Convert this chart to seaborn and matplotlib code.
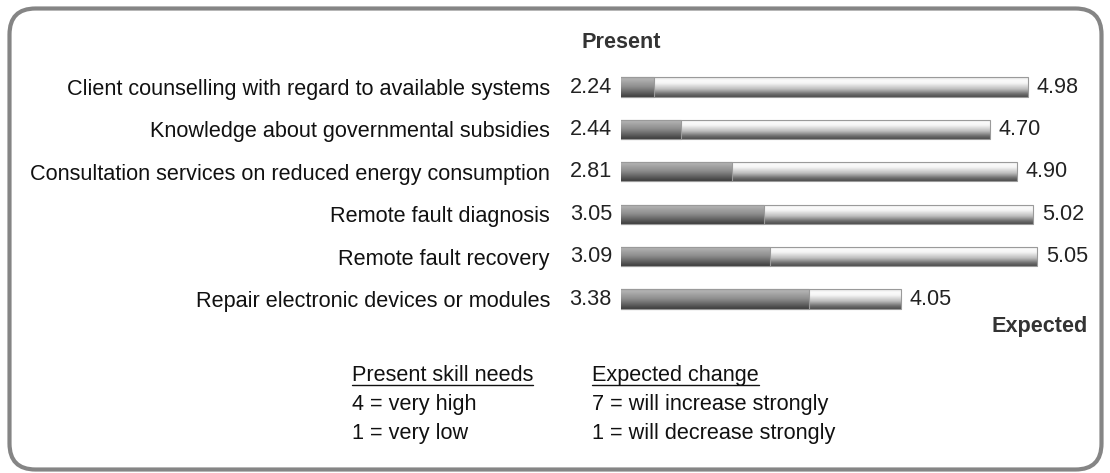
# -*- coding: utf-8 -*-

"""
    技能需求：现在 vs 预期 (水平条形图)
"""
import numpy as np
import pandas as pd
import matplotlib
matplotlib.use('Agg')
import matplotlib.pyplot as plt
import seaborn as sns
from matplotlib.patches import FancyBboxPatch
from matplotlib.lines import Line2D
from matplotlib.transforms import IdentityTransform

# 数据
items = ['Client counselling with regard to available systems',
         'Knowledge about governmental subsidies',
         'Consultation services on reduced energy consumption',
         'Remote fault diagnosis',
         'Remote fault recovery',
         'Repair electronic devices or modules']
present = [2.24, 2.44, 2.81, 3.05, 3.09, 3.38]
expected = [4.98, 4.70, 4.90, 5.02, 5.05, 4.05]

present_legend = ['Present skill needs', '4 = very high', '1 = very low']
expected_legend = ['Expected change', '7 = will increase strongly', '1 = will decrease strongly']

W, H = 1110, 473
FONT = 15.6


def gradient(stops):
    """
        竖直方向渐变色 (上 -> 下)
    """
    pos = np.linspace(0, 1, 80)
    p = [s[0] for s in stops]
    g = [s[1] for s in stops]
    col = np.interp(pos, p, g) / 255.0
    return np.repeat(col[:, None, None], 3, axis=2)


DARK = gradient([(0, 170), (0.1, 178), (0.5, 140), (0.85, 85), (1, 62)])
LIGHT = gradient([(0, 225), (0.15, 250), (0.3, 246), (0.6, 190), (0.85, 110), (1, 78)])


def paint(ax, patches, img, z):
    """
        给条形加渐变
    """
    for p in patches:
        x0 = 2
        x1 = p.get_x() + p.get_width()
        y0 = p.get_y()
        y1 = y0 + p.get_height()
        im = ax.imshow(img, extent=(x0, x1, y1, y0), origin='upper',
                       aspect='auto', zorder=z, interpolation='bilinear')
        im.set_clip_path(p)
        p.set_facecolor('none')
        p.set_edgecolor('#9a9a9a')
        p.set_linewidth(0.8)
        p.set_zorder(z + 0.5)


def main():
    sns.set_style('white')
    plt.rcParams['font.family'] = ['Liberation Sans', 'DejaVu Sans']

    df = pd.DataFrame({'item': items, 'present': present, 'expected': expected})

    fig = plt.figure(figsize=(W / 100, H / 100), dpi=100)
    ax = fig.add_axes([621 / W, (H - 320.2) / H, 477.75 / W, 254.4 / H])

    sns.barplot(data=df, x='expected', y='item', orient='h', width=0.45, ax=ax)
    n = len(ax.patches)
    paint(ax, list(ax.patches), LIGHT, 1)
    sns.barplot(data=df, x='present', y='item', orient='h', width=0.45, ax=ax)
    paint(ax, list(ax.patches)[n:], DARK, 2)

    ax.set_xlim(2, 5.5)
    ax.set_ylim(len(items) - 0.5, -0.5)
    ax.set_xlabel('')
    ax.set_ylabel('')
    ax.set_xticks([])
    ax.tick_params(axis='y', length=0, pad=71 * 72 / 100, labelsize=FONT, labelcolor='#111111')
    for s in ax.spines.values():
        s.set_visible(False)

    # 数值标签
    for i, (p, e) in enumerate(zip(present, expected)):
        ax.annotate('{:.2f}'.format(p), xy=(0, i), xycoords=('axes fraction', 'data'),
                    xytext=(-9, 0), textcoords='offset pixels',
                    ha='right', va='center', fontsize=FONT, color='#222222')
        ax.annotate('{:.2f}'.format(e), xy=(e, i), xycoords='data',
                    xytext=(9, 0), textcoords='offset pixels',
                    ha='left', va='center', fontsize=FONT, color='#222222')

    fig.text(621 / W, 1 - 42 / H, 'Present', ha='center', va='center',
             fontsize=FONT, fontweight='bold', color='#333333')
    fig.text(1088 / W, 1 - 326 / H, 'Expected', ha='right', va='center',
             fontsize=FONT, fontweight='bold', color='#333333')

    # 图例说明
    heads = []
    for x, lines in [(352, present_legend), (592, expected_legend)]:
        for k, s in enumerate(lines):
            t = fig.text(x / W, 1 - (375 + 29 * k) / H, s, ha='left', va='center',
                         fontsize=FONT, color='#111111')
            if k == 0:
                heads.append(t)

    fig.canvas.draw()
    r = fig.canvas.get_renderer()
    for t in heads:
        bb = t.get_window_extent(r)
        fig.lines.append(Line2D([bb.x0, bb.x1], [bb.y0 + 1, bb.y0 + 1], color='#111111',
                                linewidth=1.0, transform=IdentityTransform()))

    # 圆角边框
    box = FancyBboxPatch((9.5, 3.5), 1092, 461, boxstyle='round,pad=0,rounding_size=26',
                         transform=IdentityTransform(), facecolor='none',
                         edgecolor='#858585', linewidth=3)
    fig.patches.append(box)

    fig.savefig('out.png', dpi=100)


if __name__ == '__main__':
    main()
